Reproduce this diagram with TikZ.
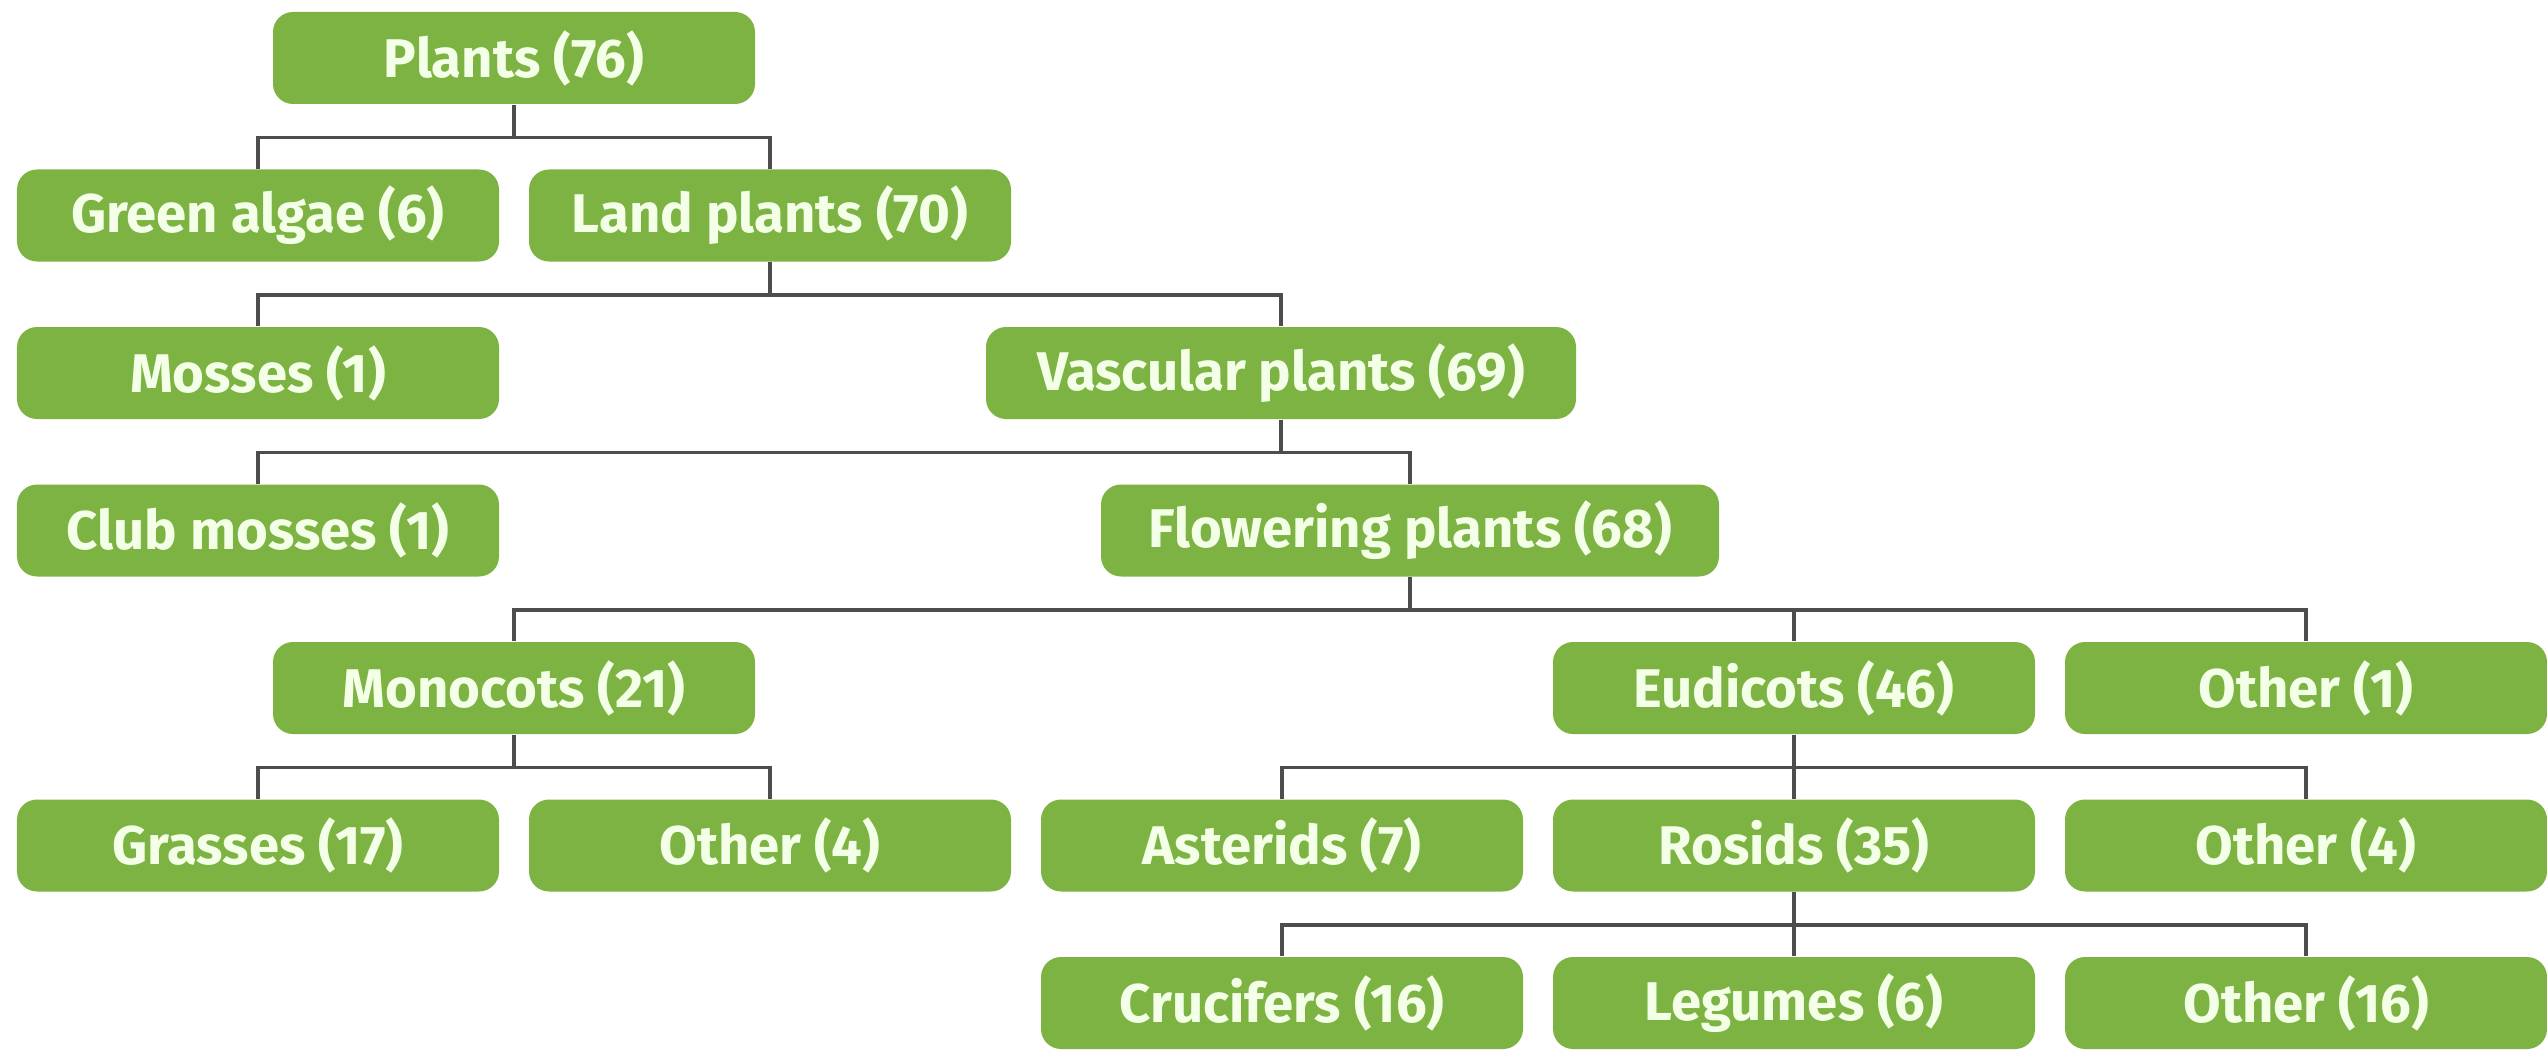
\documentclass[tikz,border=0pt]{standalone}
\usepackage{xcolor}
\usepackage{fontspec}
\setmainfont{Fira Sans}

\definecolor{leafgreen}{HTML}{7CB342}
\definecolor{leaftext}{HTML}{F4FFE8}
\definecolor{stemgray}{HTML}{4D4D4D}

\begin{document}
\begin{tikzpicture}[
          taxon/.style={fill=leafgreen, text=leaftext, rounded corners=0.2cm,
            minimum width=4.82cm, minimum height=0.92cm, inner sep=0pt,
            font=\fontsize{15.5}{18}\selectfont\bfseries},
          stem/.style={draw=stemgray, line width=0.9pt}]
          \useasboundingbox (0,0) rectangle (25.47,-10.51);

          \node[taxon] (plants) at (5.14,-0.58) {Plants (76)};

          \node[taxon] (algae) at (2.58,-2.155) {Green algae (6)};
          \node[taxon] (land) at (7.70,-2.155) {Land plants (70)};

          \node[taxon] (mosses) at (2.58,-3.73) {Mosses (1)};
          \node[taxon, minimum width=5.9cm] (vascular) at (12.81,-3.73) {Vascular plants (69)};

          \node[taxon] (club) at (2.58,-5.305) {Club mosses (1)};
          \node[taxon, minimum width=6.18cm] (flowering) at (14.10,-5.305) {Flowering plants (68)};

          \node[taxon] (monocots) at (5.14,-6.88) {Monocots (21)};
          \node[taxon] (eudicots) at (17.94,-6.88) {Eudicots (46)};
          \node[taxon] (otherflow) at (23.06,-6.88) {Other (1)};

          \node[taxon] (grasses) at (2.58,-8.455) {Grasses (17)};
          \node[taxon] (othermono) at (7.70,-8.455) {Other (4)};
          \node[taxon] (asterids) at (12.82,-8.455) {Asterids (7)};
          \node[taxon] (rosids) at (17.94,-8.455) {Rosids (35)};
          \node[taxon] (othereu) at (23.06,-8.455) {Other (4)};

          \node[taxon] (crucifers) at (12.82,-10.03) {Crucifers (16)};
          \node[taxon] (legumes) at (17.94,-10.03) {Legumes (6)};
          \node[taxon] (otherros) at (23.06,-10.03) {Other (16)};

          % branches, half way between the rows
          \draw[stem] (plants.south) -- ++(0,-0.3275) -| (algae.north);
          \draw[stem] (plants.south) -- ++(0,-0.3275) -| (land.north);

          \draw[stem] (land.south) -- ++(0,-0.3275) -| (mosses.north);
          \draw[stem] (land.south) -- ++(0,-0.3275) -| (vascular.north);

          \draw[stem] (vascular.south) -- ++(0,-0.3275) -| (club.north);
          \draw[stem] (vascular.south) -- ++(0,-0.3275) -| (flowering.north);

          \foreach \kid in {monocots,eudicots,otherflow}
            \draw[stem] (flowering.south) -- ++(0,-0.3275) -| (\kid.north);

          \draw[stem] (monocots.south) -- ++(0,-0.3275) -| (grasses.north);
          \draw[stem] (monocots.south) -- ++(0,-0.3275) -| (othermono.north);

          \foreach \kid in {asterids,rosids,othereu}
            \draw[stem] (eudicots.south) -- ++(0,-0.3275) -| (\kid.north);

          \foreach \kid in {crucifers,legumes,otherros}
            \draw[stem] (rosids.south) -- ++(0,-0.3275) -| (\kid.north);

          \end{tikzpicture}
\end{document}
